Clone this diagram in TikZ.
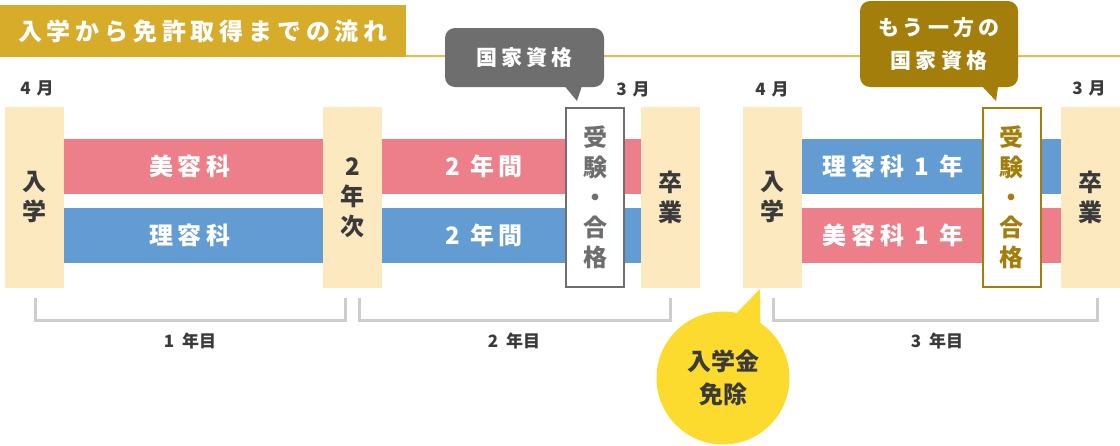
\documentclass[tikz,border=0pt]{standalone}
\usepackage{fontspec}
\usepackage{xcolor}
\setmainfont{Noto Sans CJK JP}
\newfontfamily\spaced{Noto Sans CJK JP}[LetterSpace=20]

\definecolor{Cream}{HTML}{FDE9BF}
\definecolor{Rose}{HTML}{EC7F89}
\definecolor{Sky}{HTML}{629CD3}
\definecolor{Mustard}{HTML}{D8AC2B}
\definecolor{RuleGold}{HTML}{E3BE4F}
\definecolor{Olive}{HTML}{A37E0B}
\definecolor{Slate}{HTML}{6E6E6E}
\definecolor{Sunny}{HTML}{FDDB2E}
\definecolor{Ink}{HTML}{3A3A3A}
\definecolor{Frame}{HTML}{CDCDCD}

\begin{document}
\begin{tikzpicture}[x=1pt, y=-1pt]
            \tikzstyle{Column} = [fill=Cream, minimum width=59pt, minimum height=181pt, inner sep=0pt, text=Ink, align=center, font=\bfseries\fontsize{24}{30}\selectfont]
            \tikzstyle{Exam} = [Column, fill=white, draw=#1, text=#1, line width=2pt, minimum width=58pt, minimum height=179pt]
            \tikzstyle{Bar} = [fill=#1, minimum width=259pt, minimum height=55pt, inner sep=0pt]
            \tikzstyle{Bar Label} = [text=white, font=\spaced\bfseries\fontsize{24}{30}\selectfont]
            \tikzstyle{Callout} = [fill=#1, rounded corners=10pt, inner sep=0pt, text=white, align=center, font=\spaced\bfseries\fontsize{21}{33}\selectfont]
            \tikzstyle{Month} = [text=Ink, font=\bfseries\fontsize{17}{20}\selectfont]
            \tikzstyle{Bracket} = [draw=Frame, line width=3pt]
            \useasboundingbox (0,0) rectangle (1120,445);

            % header
            \node[fill=Mustard, minimum width=406pt, minimum height=52pt, inner sep=0pt, text=white, font=\spaced\bfseries\fontsize{24}{30}\selectfont] (title) at (203,31) {入学から免許取得までの流れ};
            \coordinate (rule end) at (1120,56);
            \draw[RuleGold, line width=2pt] ([yshift=1pt]title.south east) -- (rule end);

            % courses
            \node[Bar=Rose] (beauty 1) at (193.5,166.5) {};
            \node[Bar=Sky] (barber 1) at (193.5,235) {};
            \node[Bar=Rose] (beauty 2) at (511.5,166.5) {};
            \node[Bar=Sky] (barber 2) at (511.5,235) {};
            \node[Bar=Sky] (barber 3) at (931.5,166.5) {};
            \node[Bar=Rose] (beauty 3) at (931.5,235) {};
            \node[Bar Label] (beauty 1 text) at (190,166.5) {美容科};
            \node[Bar Label] (barber 1 text) at (190,235) {理容科};
            \node[Bar Label] (beauty 2 text) at (484,166.5) {2 年間};
            \node[Bar Label] (barber 2 text) at (484,235) {2 年間};
            \node[Bar Label] (barber 3 text) at (893,166.5) {理容科 1 年};
            \node[Bar Label] (beauty 3 text) at (893,235) {美容科 1 年};

            % milestones
            \node[Column] (enter 1) at (34.5,197.5) {入\\学};
            \node[Column] (second year) at (352.5,197.5) {2\\年\\次};
            \node[Exam=Slate] (exam 1) at (595,197.5) {受\\験\\・\\合\\格};
            \node[Column] (graduate 1) at (670.5,197.5) {卒\\業};
            \node[Column] (enter 2) at (772.5,197.5) {入\\学};
            \node[Exam=Olive] (exam 2) at (1011.5,197.5) {受\\験\\・\\合\\格};
            \node[Column] (graduate 2) at (1090.5,197.5) {卒\\業};

            \node[Month] (april 1) at (37,88) {4\hspace{6pt}月};
            \node[Month] (march 1) at (633,89) {3\hspace{6pt}月};
            \node[Month] (april 2) at (772,89) {4\hspace{6pt}月};
            \node[Month] (march 2) at (1089,88) {3\hspace{6pt}月};

            % years
            \draw[Bracket] (35,298) |- (345,320) -- (345,298);
            \draw[Bracket] (359,298) |- (670,320) -- (670,298);
            \draw[Bracket] (773,298) |- (1097,320) -- (1097,298);
            \node[Month] (year 1) at (190,341) {1\hspace{8pt}年目};
            \node[Month] (year 2) at (514,341) {2\hspace{8pt}年目};
            \node[Month] (year 3) at (937,341) {3\hspace{8pt}年目};

            % notes
            \node[Callout=Slate, minimum width=159pt, minimum height=59pt] (exam note) at (524.5,57.5) {国家資格};
            \coordinate (exam tip) at (577,101);
            \fill[Slate] ([xshift=41pt]exam note.south) -- (exam tip) -- ([xshift=57pt]exam note.south) -- cycle;
            \node[Callout=Olive, minimum width=158pt, minimum height=86pt] (other note) at (939,44) {もう一方の\\国家資格};
            \coordinate (other tip) at (996,101);
            \fill[Olive] ([xshift=44pt]other note.south) -- (other tip) -- ([xshift=59pt]other note.south) -- cycle;
            \node[circle, fill=Sunny, minimum size=133pt, inner sep=0pt, text=Ink, align=center, font=\bfseries\fontsize{24}{33}\selectfont] (waiver) at (723,378) {入学金\\免除};
            \coordinate (waiver tip) at (760,289);
            \fill[Sunny] (waiver.78) -- (waiver tip) -- (waiver.56) -- cycle;
        \end{tikzpicture}
\end{document}
